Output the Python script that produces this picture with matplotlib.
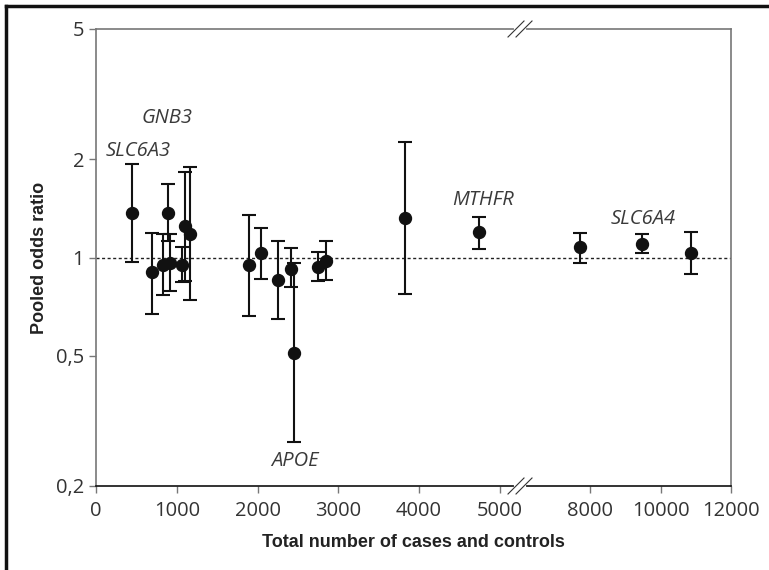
import matplotlib
matplotlib.use('Agg')
import matplotlib.pyplot as plt
from matplotlib.lines import Line2D
import numpy as np

# pooled odds ratios vs total sample size
n_total = [442, 689, 887, 825, 916, 1064, 1101, 1163, 1900, 2042, 2252, 2420,
           2454, 2751, 2843, 3828, 4740, 7716, 9467, 10857]
odds = [1.37, 0.90, 1.37, 0.95, 0.96, 0.95, 1.25, 1.18, 0.95, 1.03, 0.856, 0.92,
        0.51, 0.934, 0.974, 1.32, 1.20, 1.075, 1.10, 1.03]
ci_low = [0.97, 0.67, 1.12, 0.77, 0.79, 0.84, 0.845, 0.74, 0.66, 0.86, 0.65, 0.81,
          0.273, 0.845, 0.856, 0.776, 1.065, 0.96, 1.03, 0.89]
ci_high = [1.93, 1.19, 1.68, 1.18, 1.18, 1.08, 1.83, 1.89, 1.35, 1.23, 1.12, 1.07,
           0.96, 1.036, 1.12, 2.25, 1.33, 1.19, 1.18, 1.20]

gene_names = ['SLC6A3', 'GNB3', 'MTHFR', 'SLC6A4', 'APOE']
gene_x = [520, 879, 4790, 9504, 2463]
gene_y = [2.12, 2.68, 1.50, 1.316, 0.2377]

x_ticks = [0, 1000, 2000, 3000, 4000, 5000, 8000, 10000, 12000]
y_ticks = [0.2, 0.5, 1, 2, 5]
y_tick_labels = ['0,2', '0,5', '1', '2', '5']

# broken x axis: 0-5250 at full scale, 6014-12000 compressed
brk_lo, brk_hi = 5250, 6014
ratio = 35.25 / 80.8
xp = [-10000, 0, brk_lo, brk_hi, 12000, 40000]
up = [-10000, 0, brk_lo, brk_lo + 1,
      brk_lo + 1 + (12000 - brk_hi) * ratio, brk_lo + 1 + (40000 - brk_hi) * ratio]


def fwd(x):
    return np.interp(x, xp, up)


def inv(u):
    return np.interp(u, up, xp)


tick_font = ['Open Sans', 'DejaVu Sans']
label_font = ['Liberation Sans Narrow', 'Liberation Sans', 'DejaVu Sans']

fig = plt.figure(figsize=(7.69, 5.70), dpi=100)
ax = fig.add_axes([96 / 769, 84 / 570, 635 / 769, 457 / 570])

ax.set_xscale('function', functions=(fwd, inv))
ax.set_yscale('log')
ax.set_xlim(0, 12000)
ax.set_ylim(0.2, 5)

yerr = [np.array(odds) - np.array(ci_low), np.array(ci_high) - np.array(odds)]
ax.errorbar(n_total, odds, yerr=yerr, fmt='o', color='#111111', ms=8.6,
            elinewidth=1.5, capsize=5, capthick=1.5, zorder=3)
ax.axhline(1, color='#222222', lw=1.0, ls=(0, (2.2, 1.8)), zorder=1)

for name, gx, gy in zip(gene_names, gene_x, gene_y):
    ax.text(gx, gy, name, ha='center', va='center', fontsize=14.5,
            style='italic', color='#3a3a3a', family=tick_font)

ax.set_xticks(x_ticks)
ax.set_xticklabels([str(v) for v in x_ticks])
ax.set_yticks(y_ticks)
ax.set_yticklabels(y_tick_labels)
ax.minorticks_off()
ax.tick_params(axis='both', direction='out', length=5, width=1, color='#777777',
               labelcolor='#333333', labelsize=14.5)
ax.tick_params(axis='x', pad=6)
for lbl in ax.get_xticklabels() + ax.get_yticklabels():
    lbl.set_family(tick_font)

for side in ['left', 'top', 'right']:
    ax.spines[side].set_color('#777777')
    ax.spines[side].set_linewidth(1.2)
ax.spines['bottom'].set_color('#111111')
ax.spines['bottom'].set_linewidth(1.2)

ax.set_xlabel('Total number of cases and controls', fontsize=13, fontweight='bold',
              color='#222222', family=label_font, labelpad=9)
ax.set_ylabel('Pooled odds ratio', fontsize=13, fontweight='bold',
              color='#222222', family=label_font, labelpad=6)

# break marks on top and bottom spines
fig.canvas.draw()
bx, _ = ax.transData.transform((brk_lo, 1))
bx_f = (bx - fig.bbox.x0) / fig.bbox.width
w = 1 / 769
h = 1 / 570
for y_px in [541, 84]:
    yf = y_px / 570
    fig.add_artist(Line2D([bx_f - 4 * w, bx_f + 4 * w], [yf, yf], color='white',
                          lw=3, zorder=10))
    for off in [-4, 4]:
        fig.add_artist(Line2D([bx_f + (off - 8) * w, bx_f + (off + 8) * w],
                              [yf - 8 * h, yf + 8 * h], color='#333333',
                              lw=0.8, zorder=11))

# outer frame (left and top edges only)
fig.add_artist(Line2D([6 / 769, 6 / 769], [0, 1 - 6 / 570], color='#111111', lw=2.5))
fig.add_artist(Line2D([6 / 769, 1], [1 - 6 / 570, 1 - 6 / 570], color='#111111', lw=2.5))

fig.savefig('out.png', dpi=100)
